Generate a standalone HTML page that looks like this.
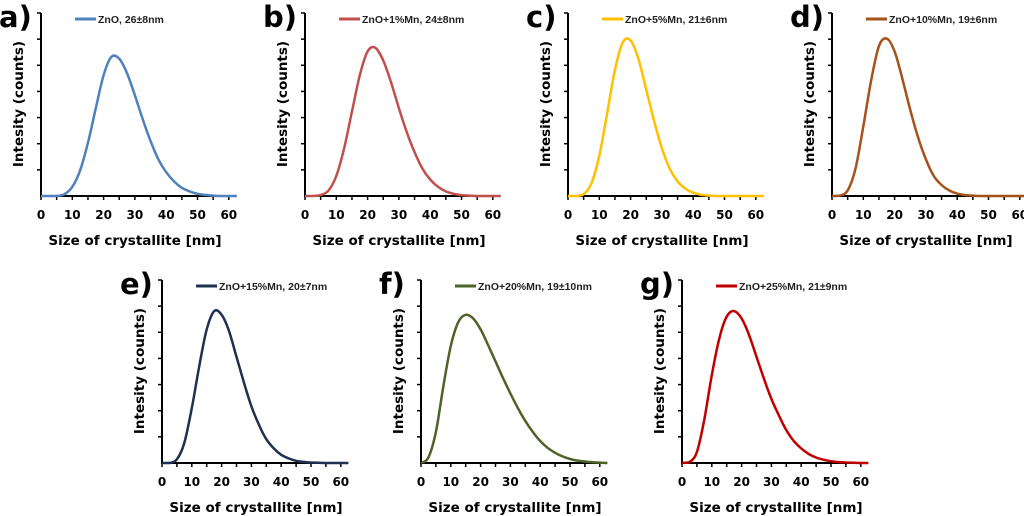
<!DOCTYPE html>
<html><head><meta charset="utf-8"><style>
html,body{margin:0;padding:0;background:#fff;}
svg{display:block;}
</style></head><body>
<svg id="fig" width="1024" height="516" viewBox="0 0 1024 516" xmlns="http://www.w3.org/2000/svg"></svg>
<script>
const sizes = [0,2.5,5,7.5,10,12.5,15,17.5,20,22.5,25,27.5,30,32.5,35,37.5,40,42.5,45,47.5,50,52.5,55,57.5,60,62.5];
const xTickLabels = [0,10,20,30,40,50,60];
const panelLetters = ["a)","b)","c)","d)","e)","f)","g)"];
const legendLabels = ["ZnO, 26±8nm","ZnO+1%Mn, 24±8nm","ZnO+5%Mn, 21±6nm","ZnO+10%Mn, 19±6nm","ZnO+15%Mn, 20±7nm","ZnO+20%Mn, 19±10nm","ZnO+25%Mn, 21±9nm"];
const seriesA = [0,0,0,0.01,0.05,0.14,0.29,0.48,0.66,0.76,0.75,0.67,0.55,0.42,0.30,0.20,0.13,0.08,0.045,0.025,0.012,0.006,0.002,0,0,0];
const seriesB = [0,0,0.005,0.03,0.11,0.26,0.46,0.66,0.79,0.81,0.74,0.62,0.48,0.35,0.24,0.15,0.09,0.05,0.025,0.012,0.005,0.002,0,0,0,0];
const seriesC = [0,0,0.01,0.07,0.22,0.45,0.69,0.84,0.85,0.75,0.58,0.41,0.26,0.15,0.08,0.04,0.018,0.007,0.002,0,0,0,0,0,0,0];
const seriesD = [0,0.002,0.03,0.15,0.38,0.63,0.82,0.86,0.79,0.64,0.47,0.32,0.20,0.11,0.06,0.03,0.013,0.005,0.002,0,0,0,0,0,0,0];
const seriesE = [0,0,0.02,0.11,0.30,0.53,0.73,0.83,0.81,0.72,0.58,0.44,0.31,0.21,0.13,0.08,0.045,0.025,0.012,0.006,0.003,0.001,0,0,0,0];
const seriesF = [0,0.03,0.17,0.42,0.64,0.77,0.81,0.79,0.73,0.645,0.555,0.465,0.38,0.30,0.23,0.17,0.12,0.083,0.056,0.036,0.022,0.013,0.008,0.004,0.002,0];
const seriesG = [0,0.005,0.06,0.24,0.48,0.68,0.80,0.83,0.79,0.70,0.58,0.46,0.35,0.26,0.18,0.12,0.08,0.05,0.03,0.018,0.01,0.005,0.003,0.001,0,0];
const allSeries = [seriesA,seriesB,seriesC,seriesD,seriesE,seriesF,seriesG];
const colors = ["#4f81bd","#c0504d","#ffc000","#a5521b","#1f3050","#4f6228","#c00000"];

const NS="http://www.w3.org/2000/svg";
const svg=document.getElementById('fig');
function mk(tag,attrs,parent){const e=document.createElementNS(NS,tag);for(const k in attrs)e.setAttribute(k,attrs[k]);(parent||svg).appendChild(e);return e;}

const layout=[
 {ox:41,oy:196,k:3.13},{ox:305,oy:196,k:3.13},{ox:568,oy:196,k:3.13},{ox:832,oy:196,k:3.13},
 {ox:162,oy:463,k:2.98},{ox:421,oy:463,k:2.98},{ox:682,oy:463,k:2.98}
];
const H=183;

layout.forEach((L,i)=>{
  const g=mk('g',{});
  
  
  const xs=v=>L.ox+v*L.k;
  const ys=v=>L.oy-v*H;
  const xEnd=xs(62.5);
  const pts=sizes.map((s,j)=>[xs(s),ys(allSeries[i][j])]);
  let d='M'+pts[0][0]+','+pts[0][1];
  for(let j=0;j<pts.length-1;j++){
    const p0=pts[Math.max(j-1,0)],p1=pts[j],p2=pts[j+1],p3=pts[Math.min(j+2,pts.length-1)];
    const c1x=p1[0]+(p2[0]-p0[0])/6,c1y=p1[1]+(p2[1]-p0[1])/6;
    const c2x=p2[0]-(p3[0]-p1[0])/6,c2y=p2[1]-(p3[1]-p1[1])/6;
    d+=` C${c1x.toFixed(1)},${Math.min(c1y,L.oy).toFixed(1)} ${c2x.toFixed(1)},${Math.min(c2y,L.oy).toFixed(1)} ${p2[0].toFixed(1)},${p2[1].toFixed(1)}`;
  }
  const ax=mk('path',{d:`M${L.ox},${L.oy-H} V${L.oy} H${xEnd}`,stroke:'#000','stroke-width':2,fill:'none'},g);
  
  
  for(let t=1;t<=7;t++){const y=L.oy-t*H/7;mk('line',{x1:L.ox-4,x2:L.ox,y1:y,y2:y,stroke:'#000','stroke-width':1.5},g);}
  for(let t=0;t<=60;t+=5){mk('line',{x1:xs(t),x2:xs(t),y1:L.oy,y2:L.oy+4,stroke:'#000','stroke-width':1.5},g);}
  xTickLabels.forEach(t=>{
    const tx=mk('text',{x:xs(t),y:L.oy+23,'text-anchor':'middle','font-family':'"DejaVu Sans","Liberation Sans",sans-serif','font-size':12,'font-weight':'bold',fill:'#000'},g);
    tx.textContent=t;
    
    
  });
  const xt=mk('text',{x:L.ox+94,y:L.oy+49,'text-anchor':'middle','font-family':'"DejaVu Sans","Liberation Sans",sans-serif','font-size':13.5,'font-weight':'bold',fill:'#000'},g);
  xt.textContent='Size of crystallite [nm]';
  
  
  const yt=mk('text',{x:0,y:0,transform:`translate(${L.ox-18},${L.oy-92}) rotate(-90)`,'text-anchor':'middle','font-family':'"DejaVu Sans","Liberation Sans",sans-serif','font-size':13.5,'font-weight':'bold',fill:'#000'},g);
  yt.textContent='Intesity (counts)';
  
  
  const pl=mk('text',{x:L.ox-42,y:L.oy-H+14,'font-family':'"DejaVu Sans","Liberation Sans",sans-serif','font-size':29,'font-weight':'bold',fill:'#000'},g);
  pl.textContent=panelLetters[i];
  
  
  const ly=L.oy-H+6;
  const ll=mk('line',{x1:L.ox+34,x2:L.ox+55,y1:ly,y2:ly,stroke:colors[i],'stroke-width':3},g);
  
  
  const lt=mk('text',{x:L.ox+57,y:ly+4,'font-family':'"Liberation Sans",sans-serif','font-size':10.5,'font-weight':'600',fill:'#222'},g);
  lt.textContent=legendLabels[i];
  
  
  const c=mk('path',{d:d,stroke:colors[i],'stroke-width':2.5,fill:'none'},g);
  
  
});
</script>
</body></html>
